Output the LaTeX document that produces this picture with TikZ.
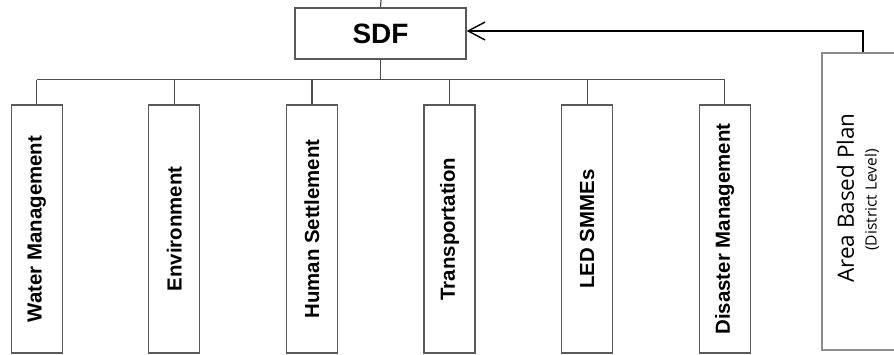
\documentclass[tikz,border=0pt]{standalone}
\usepackage{fontspec}
\setmainfont{Liberation Sans}
\newfontfamily\planfont{Open Sans}
\usetikzlibrary{arrows.meta,calc}

\tikzset{
  wire/.style={draw=black!70, line width=1.2pt},
  topbox/.style={draw=black!65, line width=1.3pt, fill=white,
    minimum width=171pt, minimum height=51pt, inner sep=0pt,
    font=\bfseries\fontsize{28}{30}\selectfont},
  themebox/.style={draw=black!65, line width=1.3pt, fill=white, rotate=90,
    minimum width=248pt, minimum height=51pt, inner sep=0pt,
    font=\bfseries\fontsize{20.4}{22}\selectfont},
  planbox/.style={draw=black!45, line width=1.2pt, fill=white,
    minimum width=76pt, minimum height=297pt, inner sep=0pt},
  plantitle/.style={rotate=90, inner sep=0pt,
    font=\planfont\fontsize{22.5}{27}\selectfont},
  plansub/.style={rotate=90, inner sep=0pt,
    font=\planfont\fontsize{15.5}{18}\selectfont},
  feed/.style={draw=black, line width=1.6pt,
    -{Straight Barb[length=17pt, width=18pt, line width=1.4pt]}}
}

\begin{document}
\begin{tikzpicture}[x=1pt, y=-1pt]
  \useasboundingbox (0,0) rectangle (894,354);

  % top node
  \node[topbox] (sdf) at (380.5,33.5) {SDF};
  \coordinate (above) at (381,0);
  \draw[wire] (sdf.north) -- (above);

  % themes (rotated boxes: their east anchor is the top edge)
  \foreach \name/\txt [count=\i from 0] in {
      water/Water Management,
      env/Environment,
      human/Human Settlement,
      trans/Transportation,
      led/LED SMMEs,
      disaster/Disaster Management}{
    \node[themebox] (\name) at (36.7+137.6*\i,229) {\txt};
  }

  % distribution bus
  \coordinate (bus) at (381,79.5);
  \draw[wire] (sdf.south) -- (sdf.south |- bus);
  \draw[wire] (water.east |- bus) -- (disaster.east |- bus);
  \foreach \name in {water,env,human,trans,led,disaster}{
    \draw[wire] (\name.east |- bus) -- (\name.east);
  }

  % district plan feeding the SDF
  \node[planbox] (plan) at (860,201.5) {};
  \node[plantitle] (plantext) at (845.5,198) {Area Based Plan};
  \node[plansub] (plannote) at (872,200) {(District Level)};
  \coordinate (feedtop) at ($(plan.north)+(3,0)$);
  \draw[feed] (feedtop) |- ([yshift=2.5pt]sdf.east);
\end{tikzpicture}
\end{document}
